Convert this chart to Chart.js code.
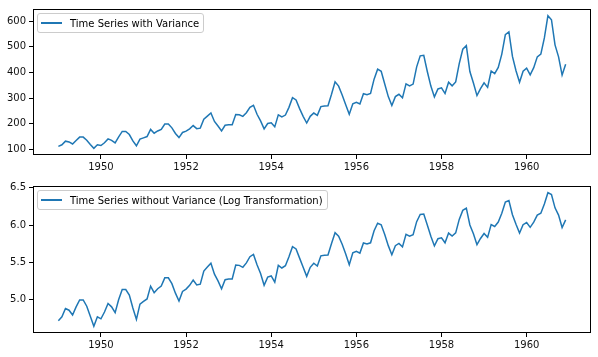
<!DOCTYPE html>
<html>
<head>
<meta charset="utf-8">
<script src="https://cdn.jsdelivr.net/npm/chart.js@4/dist/chart.umd.min.js"></script>
<style>
  html, body { margin: 0; padding: 0; background: #ffffff; }
  body { width: 598px; height: 357px; position: relative; overflow: hidden; font-family: 'DejaVu Sans', sans-serif; }
  .wrap { position: absolute; left: 0; width: 598px; }
  #w1 { top: 0; height: 175px; }
  #w2 { top: 175px; height: 182px; }
  .lg { position: absolute; box-sizing: border-box; height: 20px; border: 1px solid #cccccc; border-radius: 3px;
        background: rgba(255,255,255,0.8); display: flex; align-items: center; padding: 0 4px 0 3px;
        font: 10px 'DejaVu Sans', sans-serif; color: #000; white-space: nowrap; }
  .lg .sw { display: inline-block; width: 21px; height: 1.5px; margin-right: 8px; }
</style>
</head>
<body>
<div class="wrap" id="w1"><canvas id="c1"></canvas></div>
<div class="wrap" id="w2"><canvas id="c2"></canvas></div>
<script>
// ---- data ----
const years = [1949, 1950, 1951, 1952, 1953, 1954, 1955, 1956, 1957, 1958, 1959, 1960];
const passengers = [
  112, 118, 132, 129, 121, 135, 148, 148, 136, 119, 104, 118,
  115, 126, 141, 135, 125, 149, 170, 170, 158, 133, 114, 140,
  145, 150, 178, 163, 172, 178, 199, 199, 184, 162, 146, 166,
  171, 180, 193, 181, 183, 218, 230, 242, 209, 191, 172, 194,
  196, 196, 236, 235, 229, 243, 264, 272, 237, 211, 180, 201,
  204, 188, 235, 227, 234, 264, 302, 293, 259, 229, 203, 229,
  242, 233, 267, 269, 270, 315, 364, 347, 312, 274, 237, 278,
  284, 277, 317, 313, 318, 374, 413, 405, 355, 306, 271, 306,
  315, 301, 356, 348, 355, 422, 465, 467, 404, 347, 305, 336,
  340, 318, 362, 348, 363, 435, 491, 505, 404, 359, 310, 337,
  360, 342, 406, 396, 420, 472, 548, 559, 463, 407, 362, 405,
  417, 391, 419, 461, 472, 535, 622, 606, 508, 461, 390, 432
];
const logPassengers = [
  4.718, 4.771, 4.883, 4.860, 4.796, 4.905, 4.997, 4.997, 4.913, 4.779, 4.644, 4.771,
  4.745, 4.836, 4.949, 4.905, 4.828, 5.004, 5.136, 5.136, 5.063, 4.890, 4.736, 4.942,
  4.977, 5.011, 5.182, 5.094, 5.147, 5.182, 5.293, 5.293, 5.215, 5.088, 4.984, 5.112,
  5.142, 5.193, 5.263, 5.198, 5.209, 5.384, 5.438, 5.489, 5.342, 5.252, 5.147, 5.268,
  5.278, 5.278, 5.464, 5.460, 5.434, 5.493, 5.576, 5.606, 5.468, 5.352, 5.193, 5.303,
  5.318, 5.236, 5.460, 5.425, 5.455, 5.576, 5.710, 5.680, 5.557, 5.434, 5.313, 5.434,
  5.489, 5.451, 5.587, 5.595, 5.598, 5.753, 5.897, 5.849, 5.743, 5.613, 5.468, 5.628,
  5.649, 5.624, 5.759, 5.746, 5.762, 5.924, 6.023, 6.004, 5.872, 5.724, 5.602, 5.724,
  5.753, 5.707, 5.875, 5.852, 5.872, 6.045, 6.142, 6.146, 6.001, 5.849, 5.720, 5.817,
  5.829, 5.762, 5.892, 5.852, 5.894, 6.075, 6.196, 6.225, 6.001, 5.883, 5.737, 5.820,
  5.886, 5.835, 6.006, 5.981, 6.040, 6.157, 6.306, 6.326, 6.138, 6.009, 5.892, 6.004,
  6.033, 5.969, 6.038, 6.133, 6.157, 6.282, 6.433, 6.407, 6.230, 6.133, 5.966, 6.068
];
const xTicks = [1950, 1952, 1954, 1956, 1958, 1960];
const yTicksTop = [100, 200, 300, 400, 500, 600];
const yTicksBottom = [5.0, 5.5, 6.0, 6.5];
const labelTop = 'Time Series with Variance';
const labelBottom = 'Time Series without Variance (Log Transformation)';

// month positions on a fractional-year axis
const xPos = [];
years.forEach(y => { for (let m = 0; m < 12; m++) xPos.push(y + m / 12); });
const toPoints = vals => vals.map((v, i) => ({ x: xPos[i], y: v }));

const BLUE = '#1f77b4';
const FONT = { family: "'DejaVu Sans', sans-serif", size: 10 };
const TXT = '#111111';

const framePlugin = {
  id: 'frame',
  afterDraw(chart) {
    const a = chart.chartArea, ctx = chart.ctx;
    ctx.save();
    ctx.strokeStyle = '#000';
    ctx.lineWidth = 1;
    const l = Math.round(a.left) + 0.5, t = Math.round(a.top) + 0.5;
    const r = Math.round(a.right) - 0.5, b = Math.round(a.bottom) - 0.5;
    ctx.strokeRect(l, t, r - l, b - t);
    ctx.restore();
  }
};

const legendPlugin = {
  id: 'insideLegend',
  afterRender(chart) {
    if (chart._lgDone) return;
    chart._lgDone = true;
    const a = chart.chartArea;
    const ds = chart.data.datasets[0];
    const div = document.createElement('div');
    div.className = 'lg';
    div.style.left = (a.left + 4) + 'px';
    div.style.top = (a.top + 4) + 'px';
    const sw = document.createElement('span');
    sw.className = 'sw';
    sw.style.background = ds.borderColor;
    const tx = document.createElement('span');
    tx.textContent = ds.label;
    div.appendChild(sw);
    div.appendChild(tx);
    chart.canvas.parentNode.appendChild(div);
  }
};

function makeChart(id, label, values, yMin, yMax, yTicks, yFmt, pad, xAxisH) {
  return new Chart(document.getElementById(id), {
    type: 'line',
    data: {
      datasets: [{
        label: label,
        data: toPoints(values),
        borderColor: BLUE,
        backgroundColor: BLUE,
        borderWidth: 1.5,
        pointRadius: 0,
        tension: 0,
        fill: false
      }]
    },
    options: {
      responsive: true,
      maintainAspectRatio: false,
      animation: false,
      devicePixelRatio: 1,
      layout: { padding: pad },
      plugins: { legend: { display: false }, tooltip: { enabled: false } },
      scales: {
        x: {
          type: 'linear',
          min: 1948.404,
          max: 1961.512,
          afterBuildTicks: s => { s.ticks = xTicks.map(v => ({ value: v })); },
          afterFit: s => { s.height = xAxisH; },
          ticks: { callback: v => String(v), font: FONT, color: TXT, padding: 2, maxRotation: 0, autoSkip: false },
          grid: { display: true, drawOnChartArea: false, drawTicks: true, tickLength: 4, color: '#000', lineWidth: 1 },
          border: { display: false }
        },
        y: {
          type: 'linear',
          min: yMin,
          max: yMax,
          afterBuildTicks: s => { s.ticks = yTicks.map(v => ({ value: v })); },
          afterFit: s => { s.width = 33; },
          ticks: { callback: yFmt, font: FONT, color: TXT, padding: 3, autoSkip: false },
          grid: { display: true, drawOnChartArea: false, drawTicks: true, tickLength: 4, color: '#000', lineWidth: 1 },
          border: { display: false }
        }
      }
    },
    plugins: [framePlugin, legendPlugin]
  });
}

makeChart('c1', labelTop, passengers, 78.1, 647.9, yTicksTop, v => String(v),
  { left: 0, top: 7, right: 7, bottom: 0 }, 20);
makeChart('c2', labelBottom, logPassengers, 4.555, 6.522, yTicksBottom, v => Number(v).toFixed(1),
  { left: 0, top: 11, right: 7, bottom: 0 }, 24);
</script>
</body>
</html>
